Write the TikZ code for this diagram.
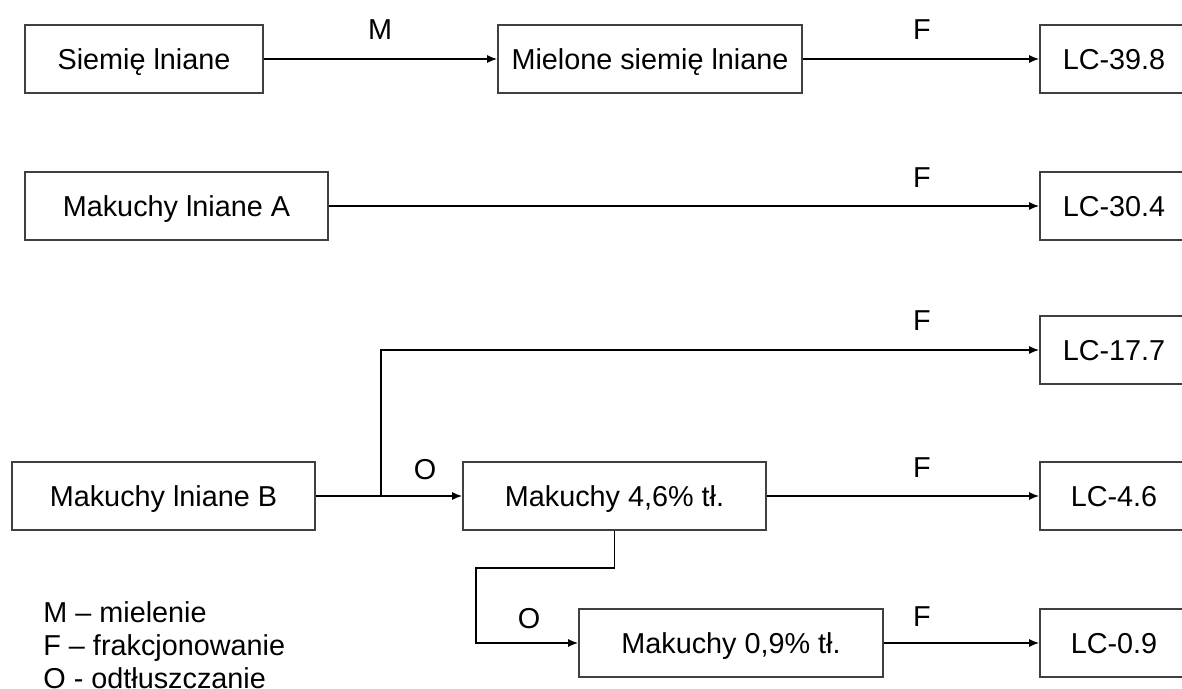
\documentclass[tikz,border=0pt]{standalone}
\usepackage{fontspec}
\setmainfont{Liberation Sans}
\usetikzlibrary{arrows.meta,positioning}
\tikzset{
  flow/.style={-{Latex[length=5pt,width=4pt]}, line width=0.7pt, draw=black},
  stage/.style={draw=black!75, line width=0.9pt, rectangle, minimum height=34pt, inner sep=0pt, text height=10.3pt, text depth=0pt, align=center, font=\fontsize{14.4}{17}\selectfont},
  tag/.style={inner sep=0pt, font=\fontsize{14.4}{17}\selectfont},
  legend/.style={inner sep=0pt, anchor=base west, font=\fontsize{14.4}{17}\selectfont}
}

\begin{document}
\begin{tikzpicture}[x=0.5pt, y=-0.5pt]
  \useasboundingbox (0,0) rectangle (1182,689);
  \clip (0,0) rectangle (1182,689);
  % row 1
  \node[stage, minimum width=119pt] (seed) at (144,59) {Siemię lniane};
  \node[stage, minimum width=152pt] (ground) at (650,59) {Mielone siemię lniane};
  \node[stage, minimum width=74pt] (lc398) at (1114,59) {LC-39.8};
  % row 2
  \node[stage, minimum width=151.5pt] (cakeA) at (176.5,206) {Makuchy lniane A};
  \node[stage, minimum width=74pt] (lc304) at (1114,206) {LC-30.4};
  % rows 3-5
  \node[stage, minimum width=74pt] (lc177) at (1114,350) {LC-17.7};
  \node[stage, minimum width=151.5pt] (cakeB) at (163.5,496) {Makuchy lniane B};
  \node[stage, minimum width=151.5pt] (cake46) at (614.5,496) {Makuchy 4,6\% tł.};
  \node[stage, minimum width=74pt] (lc46) at (1114,496) {LC-4.6};
  \node[stage, minimum width=152pt] (cake09) at (731,643) {Makuchy 0,9\% tł.};
  \node[stage, minimum width=74pt] (lc09) at (1114,643) {LC-0.9};
  \coordinate (split) at (381,496);
  \coordinate (bend) at (476,568);

  \draw[flow] (seed) -- (ground);
  \draw[flow] (ground) -- (lc398);
  \draw[flow] (cakeA) -- (lc304);
  \draw[flow] (cakeB) -- (cake46);
  \draw[flow] (split) |- (lc177);
  \draw[flow] (cake46) -- (lc46);
  \draw[flow] (cake46.south) |- (bend) |- (cake09.west);
  \draw[flow] (cake09) -- (lc09);

  \node[tag] (opM) at (380,30) {M};
  \node[tag] (opF1) at (922,30) {F};
  \node[tag] (opF2) at (922,178) {F};
  \node[tag] (opF3) at (922,321) {F};
  \node[tag] (opO4) at (425,470) {O};
  \node[tag] (opF4) at (922,468) {F};
  \node[tag] (opO5) at (529,619) {O};
  \node[tag] (opF5) at (922,617) {F};

  \node[legend] (legM) at (43,622) {M – mielenie};
  \node[legend] (legF) at (43,655) {F – frakcjonowanie};
  \node[legend] (legO) at (43,688) {O - odtłuszczanie};
\end{tikzpicture}
\end{document}
